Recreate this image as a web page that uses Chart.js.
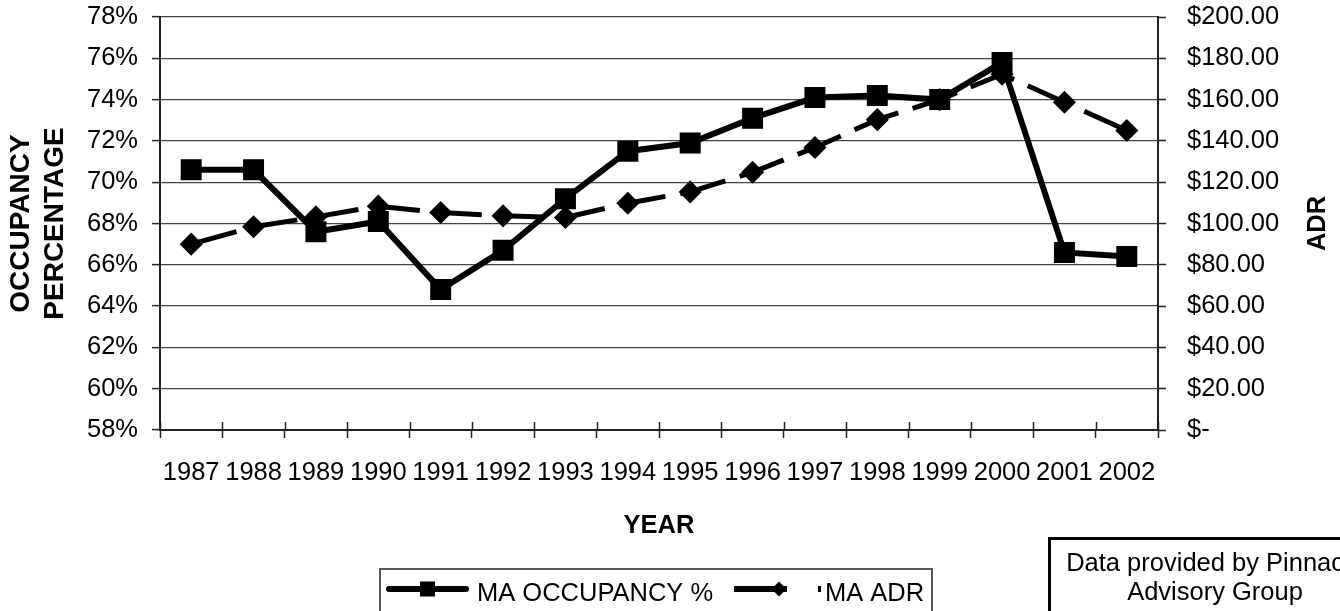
<!DOCTYPE html>
<html>
<head>
<meta charset="utf-8">
<script src="https://cdn.jsdelivr.net/npm/chart.js@4.4.1/dist/chart.umd.min.js"></script>
<style>
  html, body { margin: 0; padding: 0; background: #fff; }
  #chart { display: block; }
</style>
</head>
<body>
<canvas id="chart" width="1340" height="611"></canvas>
<script>
// data
const years = ["1987", "1988", "1989", "1990", "1991", "1992", "1993", "1994",
               "1995", "1996", "1997", "1998", "1999", "2000", "2001", "2002"];
const occupancy = [70.6, 70.6, 67.6, 68.1, 64.8, 66.7, 69.2, 71.5,
                   71.9, 73.1, 74.1, 74.2, 74.0, 75.8, 66.6, 66.4];
const adr = [90.0, 98.4, 103.2, 108.4, 105.3, 103.7, 102.9, 109.8,
             115.3, 124.8, 136.8, 150.3, 160.0, 172.3, 158.7, 145.0];
const occTicks = [58, 60, 62, 64, 66, 68, 70, 72, 74, 76, 78];
const adrTicks = [0, 20, 40, 60, 80, 100, 120, 140, 160, 180, 200];

const FONT = "Arial, 'Liberation Sans', sans-serif";
const FS = 25.5;

// crossing tick marks on the x axis, ADR title, legend and source note
const extras = {
    id: "extras",
    afterDraw(chart) {
        const ctx = chart.ctx;
        const area = chart.chartArea;
        const x = chart.scales.x;

        // inner half of the x tick marks
        const step = (x.right - x.left) / years.length;
        ctx.save();
        ctx.strokeStyle = "#222";
        ctx.lineWidth = 1.5;
        for (let i = 0; i <= years.length; i++) {
            const px = Math.round(x.left + i * step) + 0.5;
            ctx.beginPath();
            ctx.moveTo(px, area.bottom - 8);
            ctx.lineTo(px, area.bottom);
            ctx.stroke();
        }
        ctx.restore();

        // right axis title, reads bottom to top
        ctx.save();
        ctx.fillStyle = "#000";
        ctx.font = "bold " + FS + "px " + FONT;
        ctx.textAlign = "center";
        ctx.textBaseline = "middle";
        ctx.translate(chart.width - 22, (area.top + area.bottom) / 2);
        ctx.rotate(-Math.PI / 2);
        ctx.fillText("ADR", 0, 0);
        ctx.restore();

        // legend
        const occSet = chart.data.datasets[0];
        const adrSet = chart.data.datasets[1];
        ctx.save();
        ctx.strokeStyle = "#555";
        ctx.lineWidth = 2;
        ctx.strokeRect(380, 569, 552, 80);
        const ly = 589;
        ctx.strokeStyle = "#000";
        ctx.fillStyle = "#000";
        ctx.lineWidth = occSet.borderWidth;
        ctx.lineCap = "round";
        ctx.beginPath();
        ctx.moveTo(389, ly);
        ctx.lineTo(466, ly);
        ctx.stroke();
        ctx.fillRect(427.5 - 7.5, ly - 7.5, 15, 15);

        ctx.lineCap = "butt";
        ctx.lineWidth = adrSet.borderWidth + 1;
        ctx.setLineDash([53, 31]);
        ctx.beginPath();
        ctx.moveTo(734, ly);
        ctx.lineTo(821, ly);
        ctx.stroke();
        ctx.setLineDash([]);
        ctx.beginPath();
        ctx.moveTo(779, ly - 7.5);
        ctx.lineTo(786.5, ly);
        ctx.lineTo(779, ly + 7.5);
        ctx.lineTo(771.5, ly);
        ctx.closePath();
        ctx.fill();

        ctx.font = FS + "px " + FONT;
        ctx.textBaseline = "middle";
        ctx.textAlign = "left";
        ctx.fillText(occSet.label, 477, 594);
        ctx.fillText(adrSet.label, 825, 594);
        ctx.restore();

        // source note
        ctx.save();
        ctx.strokeStyle = "#000";
        ctx.lineWidth = 3;
        ctx.strokeRect(1049.5, 538.5, 332, 100);
        ctx.fillStyle = "#000";
        ctx.font = FS + "px " + FONT;
        ctx.textAlign = "center";
        ctx.textBaseline = "middle";
        ctx.fillText("Data provided by Pinnacle", 1215, 564);
        ctx.fillText("Advisory Group", 1215, 593);
        ctx.restore();
    }
};

function fixWidth(w) {
    return function(scale) {
        scale.width = w;
        scale.paddingTop = 0;
        scale.paddingBottom = 0;
    };
}

new Chart(document.getElementById("chart"), {
    type: "line",
    data: {
        labels: years,
        datasets: [{
            label: "MA OCCUPANCY %",
            data: occupancy,
            yAxisID: "y",
            borderColor: "#000",
            backgroundColor: "#000",
            borderWidth: 6,
            pointStyle: "rect",
            pointRadius: 10.6,
            pointHoverRadius: 10.6,
            tension: 0,
            order: 1
        }, {
            label: "MA ADR",
            data: adr,
            yAxisID: "y2",
            borderColor: "#000",
            backgroundColor: "#000",
            borderWidth: 5,
            borderDash: [47, 15],
            borderCapStyle: "butt",
            pointStyle: "rectRot",
            pointRadius: 8,
            pointHoverRadius: 8,
            tension: 0,
            order: 2
        }]
    },
    options: {
        responsive: false,
        animation: false,
        devicePixelRatio: 1,
        layout: { padding: { top: 17, left: 0, right: 0, bottom: 0 } },
        plugins: {
            legend: { display: false },
            tooltip: { enabled: false }
        },
        scales: {
            x: {
                offset: true,
                afterFit: function(scale) {
                    scale.height = 181;
                    scale.paddingLeft = 0;
                    scale.paddingRight = 0;
                },
                grid: {
                    offset: true,
                    drawOnChartArea: false,
                    tickLength: 8,
                    tickColor: "#222",
                    tickWidth: 1.5
                },
                border: { color: "#222", width: 2 },
                ticks: {
                    color: "#000",
                    padding: 20,
                    maxRotation: 0,
                    autoSkip: false,
                    font: { family: FONT, size: FS }
                },
                title: {
                    display: true,
                    text: "YEAR",
                    color: "#000",
                    font: { family: FONT, size: FS, weight: "bold" },
                    padding: { top: 0, bottom: 69.7 }
                }
            },
            y: {
                position: "left",
                min: 58,
                max: 78,
                afterFit: fixWidth(160),
                afterBuildTicks: function(scale) {
                    scale.ticks = occTicks.map(v => ({ value: v }));
                },
                grid: {
                    color: "#444",
                    lineWidth: 1.2,
                    tickLength: 8,
                    tickColor: "#222",
                    tickWidth: 1.5
                },
                border: { color: "#222", width: 2 },
                ticks: {
                    color: "#000",
                    padding: 14,
                    font: { family: FONT, size: FS },
                    callback: v => v + "%"
                },
                title: {
                    display: true,
                    text: ["OCCUPANCY", "PERCENTAGE"],
                    color: "#000",
                    font: { family: FONT, size: 28, weight: "bold", lineHeight: 1.22 },
                    padding: { top: 4.5, bottom: 0 }
                }
            },
            y2: {
                position: "right",
                min: 0,
                max: 200,
                afterFit: fixWidth(182),
                afterBuildTicks: function(scale) {
                    scale.ticks = adrTicks.map(v => ({ value: v }));
                },
                grid: {
                    drawOnChartArea: false,
                    tickLength: 8,
                    tickColor: "#222",
                    tickWidth: 1.5
                },
                border: { color: "#222", width: 2 },
                ticks: {
                    color: "#000",
                    padding: 21,
                    font: { family: FONT, size: FS },
                    callback: v => v === 0 ? "$-" : "$" + v.toFixed(2)
                }
            }
        }
    },
    plugins: [extras]
});
</script>
</body>
</html>
